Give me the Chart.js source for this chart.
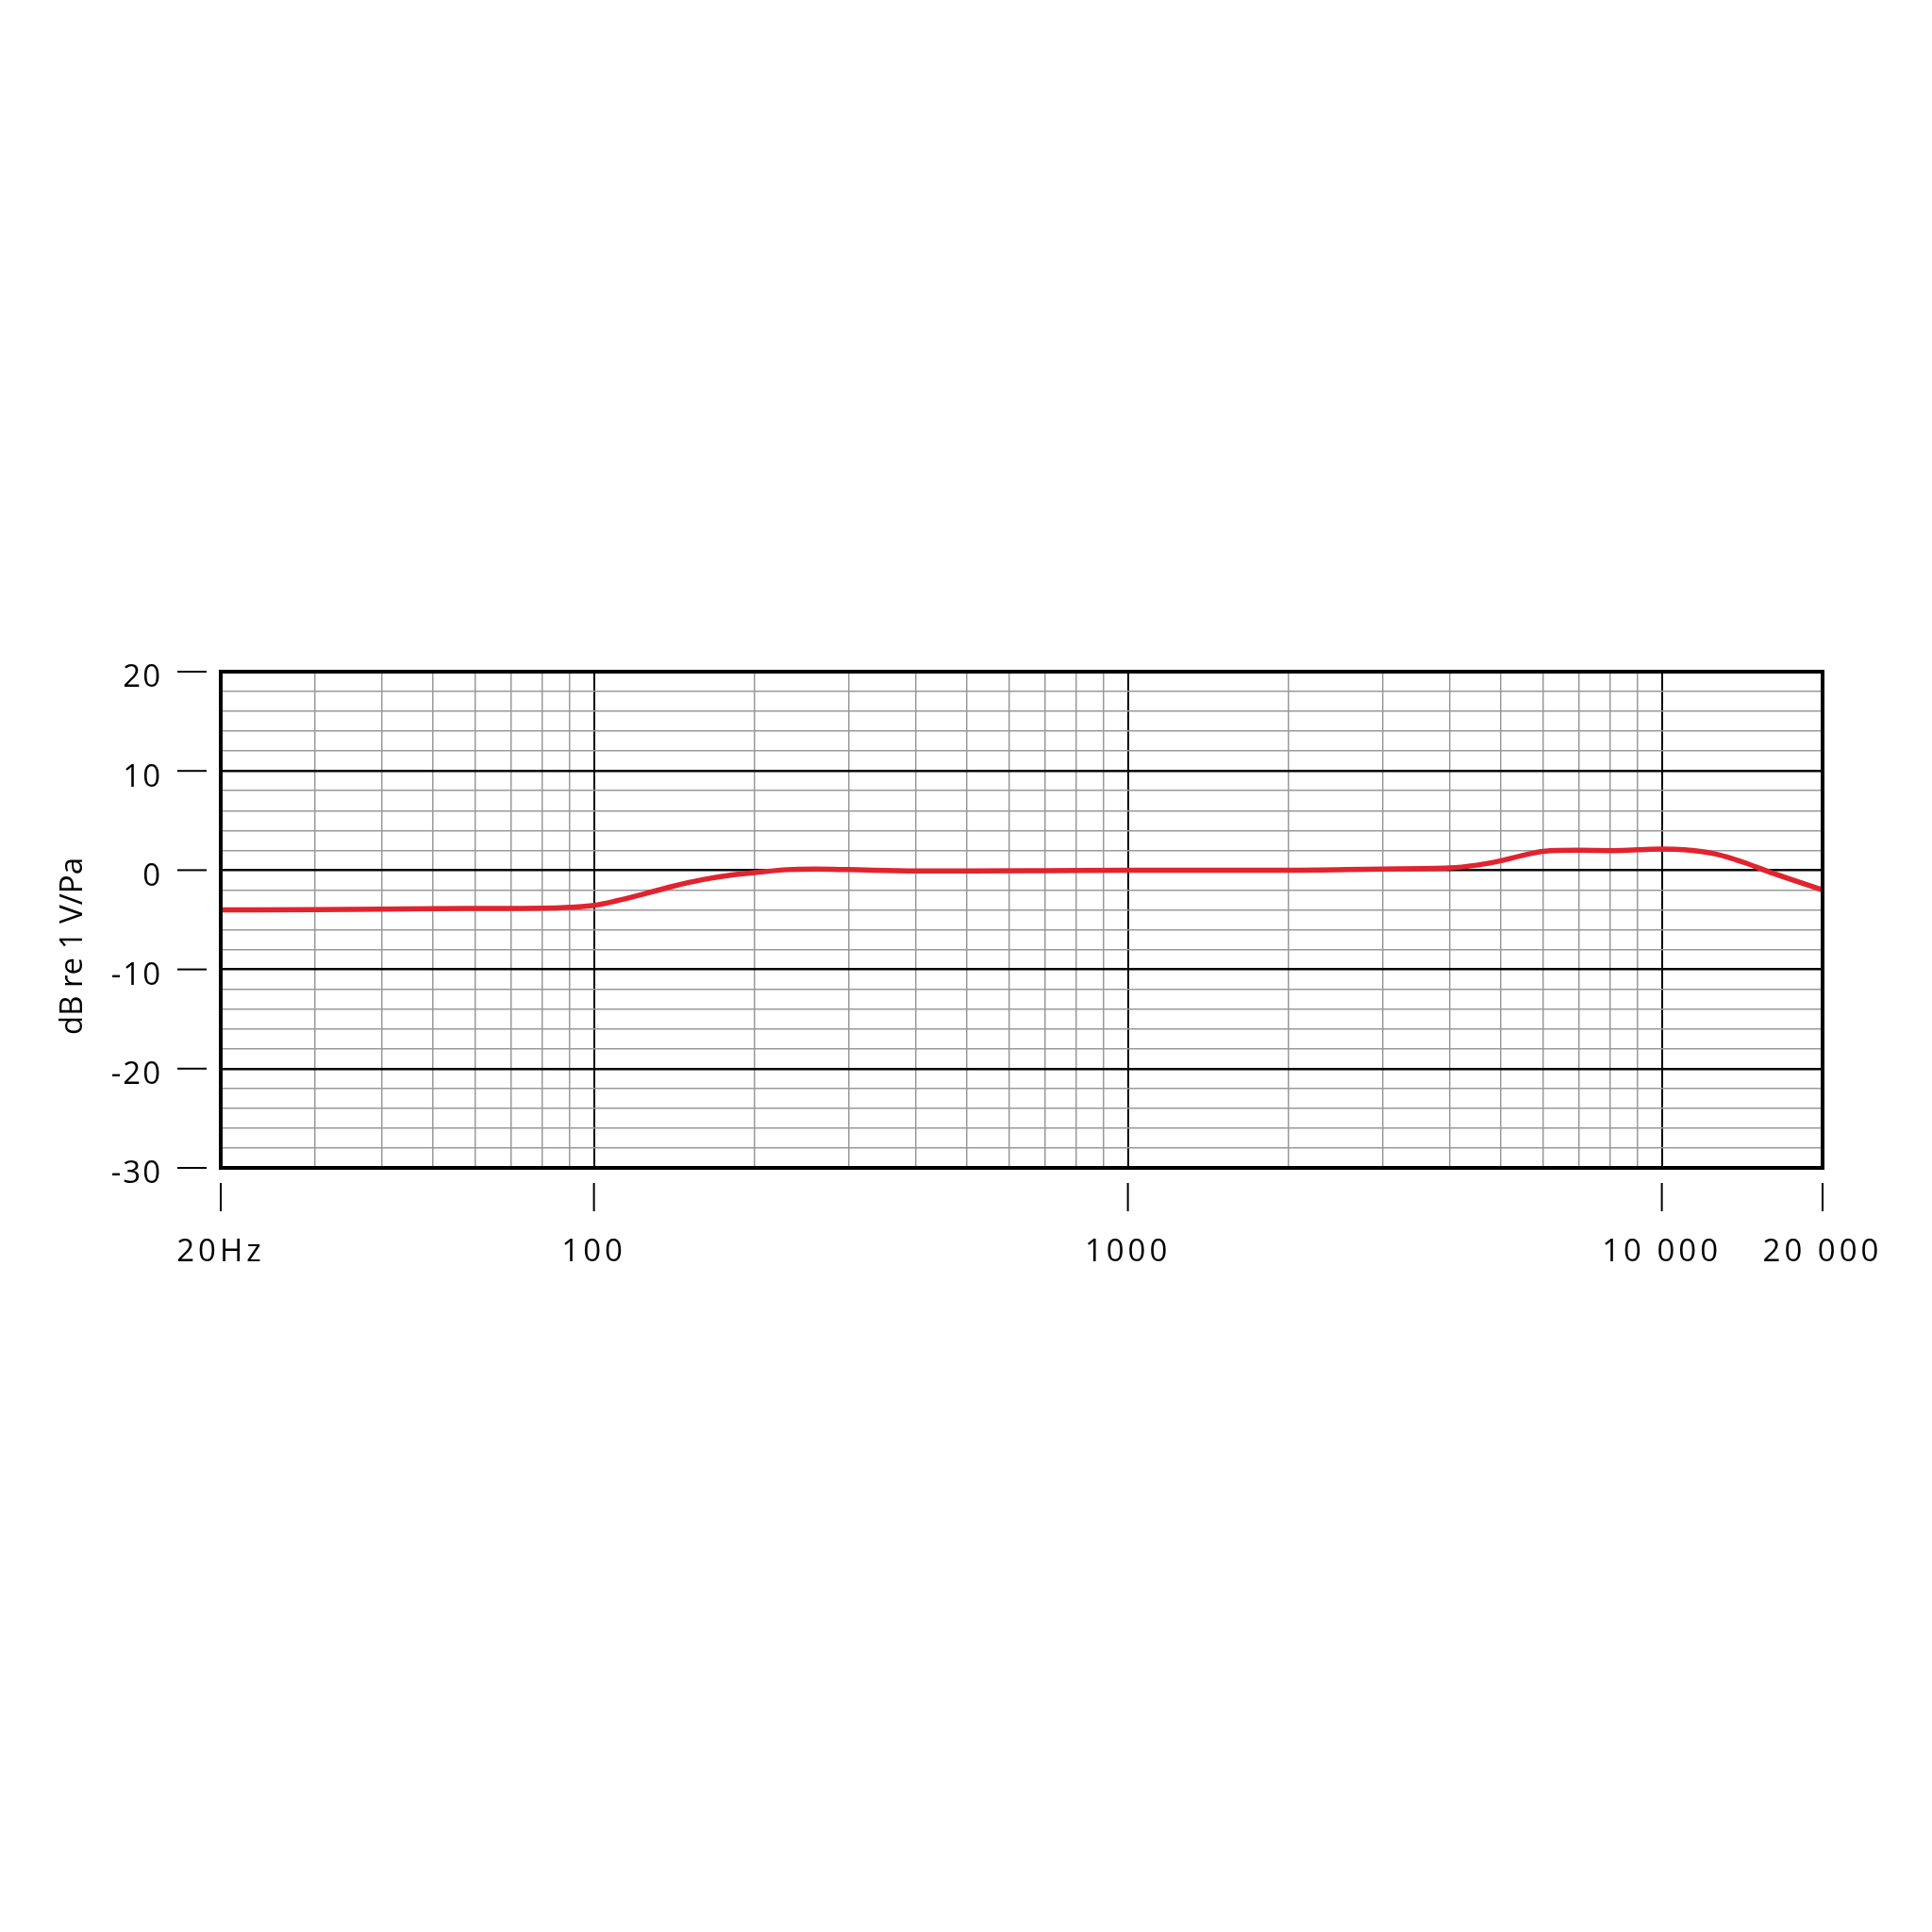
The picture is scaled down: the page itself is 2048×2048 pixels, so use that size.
<!DOCTYPE html>
<html>
<head>
<meta charset="utf-8">
<script src="https://cdn.jsdelivr.net/npm/chart.js@4/dist/chart.umd.min.js"></script>
<style>
  body { margin: 0; background: #fff; }
  #wrap { width: 2048px; height: 2048px; }
</style>
</head>
<body>
<div id="wrap"><canvas id="myChart" width="2048" height="2048"></canvas></div>
<script>
// frequency response (Hz, dB re 1 V/Pa)
let freqs = [20, 30, 40, 50, 60, 70, 80, 90, 100, 110, 125, 140, 160, 180, 200, 230, 260, 300, 400, 500, 700, 1000, 2000, 3000, 4000, 4500, 5000, 5500, 6000, 7000, 8000, 9000, 10000, 11000, 12500, 13500, 14300, 15700, 17600, 20000];
let levels = [-4.0, -3.97, -3.93, -3.88, -3.86, -3.85, -3.84, -3.75, -3.55, -3.1, -2.35, -1.65, -0.95, -0.5, -0.25, 0.05, 0.1, 0.05, -0.08, -0.08, -0.05, 0, 0, 0.12, 0.22, 0.5, 0.95, 1.5, 1.9, 2.0, 1.97, 2.05, 2.12, 2.05, 1.67, 1.2, 0.75, -0.07, -1.0, -2.0];

let xLabelValues = [20, 100, 1000, 10000, 20000];
let xLabelTexts = ["20Hz", "100", "1000", "10 000", "20 000"];
let xMajor = [100, 1000, 10000];
let xGridValues = [20, 30, 40, 50, 60, 70, 80, 90, 100, 200, 300, 400, 500, 600, 700, 800, 900, 1000, 2000, 3000, 4000, 5000, 6000, 7000, 8000, 9000, 10000, 20000];
let yLabelValues = [20, 10, 0, -10, -20, -30];
let yTitle = "dB re 1 V/Pa";

let points = freqs.map((f, i) => ({ x: f, y: levels[i] }));

let frame = {
  id: "frame",
  afterDraw: (chart) => {
    let ctx = chart.ctx;
    let area = chart.chartArea;
    let xs = chart.scales.x;
    let ys = chart.scales.y;
    ctx.save();
    ctx.strokeStyle = "#000";
    ctx.fillStyle = "#000";
    ctx.lineWidth = 4;
    ctx.strokeRect(area.left, area.top, area.right - area.left, area.bottom - area.top);

    ctx.lineWidth = 2;
    ctx.font = "33px 'Open Sans'";
    ctx.letterSpacing = "2px";
    ctx.textAlign = "right";
    ctx.textBaseline = "middle";
    yLabelValues.forEach((v) => {
      let y = ys.getPixelForValue(v);
      ctx.beginPath();
      ctx.moveTo(188, y);
      ctx.lineTo(219, y);
      ctx.stroke();
      ctx.fillText(String(v), 172, y + 7);
    });

    // x labels are spaced out in the original
    ctx.letterSpacing = "4px";
    ctx.textAlign = "center";
    xLabelValues.forEach((v, i) => {
      let x = xs.getPixelForValue(v);
      ctx.beginPath();
      ctx.moveTo(x, 1254);
      ctx.lineTo(x, 1284);
      ctx.stroke();
      ctx.fillText(xLabelTexts[i], x, 1328);
    });

    ctx.letterSpacing = "0px";
    ctx.translate(78, 1003);
    ctx.rotate(-Math.PI / 2);
    ctx.fillText(yTitle, 0, 0);
    ctx.restore();
  }
};

let ctx = document.getElementById("myChart").getContext("2d");
let chart = new Chart(ctx, {
  type: "scatter",
  data: {
    datasets: [
      {
        data: points,
        showLine: true,
        borderColor: "#e0242f",
        borderWidth: 5.5,
        pointRadius: 0,
        cubicInterpolationMode: "monotone",
      },
    ],
  },
  options: {
    responsive: false,
    animation: false,
    layout: { padding: { left: 234, right: 116, top: 712, bottom: 810 } },
    plugins: { legend: { display: false }, tooltip: { enabled: false } },
    scales: {
      x: {
        type: "logarithmic",
        min: 20,
        max: 20000,
        afterBuildTicks: (scale) => {
          scale.ticks = xGridValues.map((v) => ({ value: v }));
        },
        ticks: { display: false },
        border: { display: false },
        grid: {
          drawTicks: false,
          color: (c) => (xMajor.includes(c.tick.value) ? "#000" : "#999"),
          lineWidth: (c) => (xMajor.includes(c.tick.value) ? 2 : 1.5),
        },
      },
      y: {
        min: -30,
        max: 20,
        ticks: { display: false, stepSize: 2 },
        border: { display: false },
        grid: {
          drawTicks: false,
          color: (c) => (c.tick.value % 10 === 0 ? "#000" : "#999"),
          lineWidth: (c) => (c.tick.value % 10 === 0 ? 2.5 : 1.5),
        },
      },
    },
  },
  plugins: [frame],
});
</script>
</body>
</html>
